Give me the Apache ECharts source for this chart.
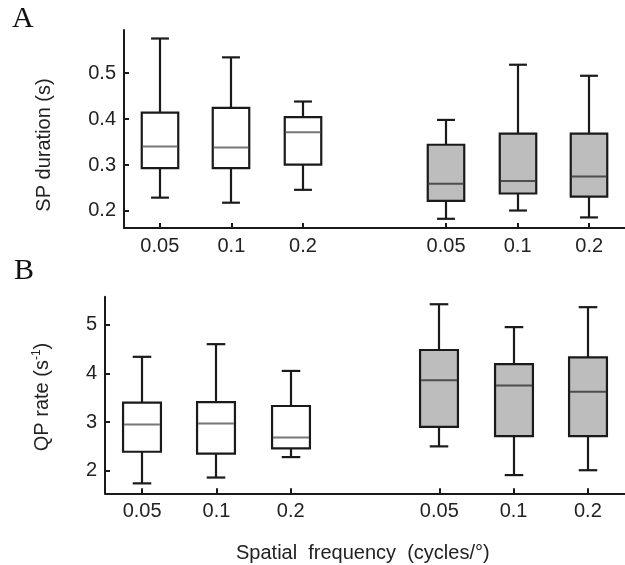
<!DOCTYPE html>
<html>
<head>
<meta charset="utf-8">
<script src="https://cdn.jsdelivr.net/npm/echarts@6/dist/echarts.min.js"></script>
<style>
  html, body { margin: 0; padding: 0; background: #fff; }
  #chart { width: 625px; height: 565px; }
</style>
</head>
<body>
<div id="chart"></div>
<script>
// Spatial-frequency conditions; the blank slot separates the two groups
const categories = ['0.05', '0.1', '0.2', '', '0.05', '0.1', '0.2'];
// 0 = open boxes (first group), 1 = filled boxes (second group)
const groupFill = [0, 0, 0, null, 1, 1, 1];

// Box statistics per condition: [min, Q1, median, Q3, max]
const spDuration = [
  [0.229, 0.293, 0.340, 0.414, 0.575],
  [0.218, 0.293, 0.338, 0.424, 0.534],
  [0.246, 0.301, 0.371, 0.404, 0.438],
  null,
  [0.183, 0.222, 0.259, 0.344, 0.398],
  [0.201, 0.238, 0.265, 0.368, 0.518],
  [0.186, 0.231, 0.275, 0.368, 0.494]
];
const qpRate = [
  [1.74, 2.39, 2.95, 3.40, 4.34],
  [1.86, 2.35, 2.97, 3.41, 4.60],
  [2.28, 2.46, 2.68, 3.33, 4.05],
  null,
  [2.50, 2.90, 3.86, 4.48, 5.42],
  [1.91, 2.71, 3.75, 4.19, 4.95],
  [2.01, 2.71, 3.62, 4.33, 5.36]
];

const spTicks = [0.2, 0.3, 0.4, 0.5];
const qpTicks = [2, 3, 4, 5];

const INK = '#1a1a1a';
const TEXT = '#222';
const FONT = 'Liberation Sans';
const LABEL_SIZE = 20;

function toSeriesData(stats) {
  const out = [];
  stats.forEach(function (s, i) {
    if (s) out.push([i, s[0], s[1], s[2], s[3], s[4], groupFill[i]]);
  });
  return out;
}

function renderBox(params, api) {
  const x = api.value(0);
  const band = api.size([1, 0])[0];
  const half = band * 0.255;
  const capHalf = band * 0.125;
  const pMin = api.coord([x, api.value(1)]);
  const pQ1 = api.coord([x, api.value(2)]);
  const pMed = api.coord([x, api.value(3)]);
  const pQ3 = api.coord([x, api.value(4)]);
  const pMax = api.coord([x, api.value(5)]);
  const filled = api.value(6) === 1;
  const cx = Math.round(pMed[0]);
  const line = { stroke: INK, lineWidth: 2.2 };
  return {
    type: 'group',
    children: [
      { type: 'line', shape: { x1: cx, y1: pQ3[1], x2: cx, y2: pMax[1] }, style: line },
      { type: 'line', shape: { x1: cx, y1: pQ1[1], x2: cx, y2: pMin[1] }, style: line },
      { type: 'line', shape: { x1: cx - capHalf, y1: pMax[1], x2: cx + capHalf, y2: pMax[1] }, style: line },
      { type: 'line', shape: { x1: cx - capHalf, y1: pMin[1], x2: cx + capHalf, y2: pMin[1] }, style: line },
      {
        type: 'rect',
        shape: { x: cx - half, y: pQ3[1], width: half * 2, height: pQ1[1] - pQ3[1] },
        style: { fill: filled ? '#bdbdbd' : '#ffffff', stroke: INK, lineWidth: 2.2 }
      },
      {
        type: 'line',
        shape: { x1: cx - half + 1, y1: pMed[1], x2: cx + half - 1, y2: pMed[1] },
        style: { stroke: filled ? '#4e4e4e' : '#777777', lineWidth: 2 }
      }
    ]
  };
}

function xAxisFor(gridIndex) {
  return {
    type: 'category',
    gridIndex: gridIndex,
    data: categories,
    boundaryGap: true,
    axisLine: { show: true, onZero: false, lineStyle: { color: INK, width: 2 } },
    axisTick: {
      show: true, inside: true, length: 5, alignWithLabel: true,
      interval: function (i, v) { return v !== ''; },
      lineStyle: { color: INK, width: 2 }
    },
    axisLabel: { interval: 0, margin: 8, fontSize: LABEL_SIZE, color: TEXT, fontFamily: FONT },
    splitLine: { show: false }
  };
}

function yAxisFor(gridIndex, min, max, ticks, name, gap, namePadding) {
  return {
    type: 'value',
    gridIndex: gridIndex,
    min: min,
    max: max,
    name: name,
    nameLocation: 'middle',
    nameRotate: 90,
    nameGap: gap,
    nameTextStyle: {
      fontSize: 20, color: TEXT, fontFamily: FONT, padding: namePadding,
      rich: {
        t: { fontSize: 20, color: TEXT, fontFamily: FONT },
        sup: { fontSize: 12, color: TEXT, fontFamily: FONT, verticalAlign: 'top', lineHeight: 22 }
      }
    },
    axisLine: { show: true, lineStyle: { color: INK, width: 2 } },
    axisTick: { show: true, inside: true, length: 5, customValues: ticks, lineStyle: { color: INK, width: 2 } },
    axisLabel: { customValues: ticks, margin: 8, fontSize: LABEL_SIZE, color: TEXT, fontFamily: FONT },
    splitLine: { show: false }
  };
}

const chart = echarts.init(document.getElementById('chart'), null, { renderer: 'canvas' });
chart.setOption({
  animation: false,
  backgroundColor: '#ffffff',
  grid: [
    { left: 124, top: 30, width: 507.5, height: 198 },
    { left: 105, top: 296.7, width: 526.4, height: 196.6 }
  ],
  xAxis: [xAxisFor(0), xAxisFor(1)],
  yAxis: [
    yAxisFor(0, 0.163, 0.5935, spTicks, 'SP duration (s)', 70, [0, 32, 0, 0]),
    yAxisFor(1, 1.536, 5.575, qpTicks, '{t|QP rate (s}{sup|-1}{t|)}', 52, [0, 4, 0, 0])
  ],
  series: [
    { type: 'custom', xAxisIndex: 0, yAxisIndex: 0, renderItem: renderBox, data: toSeriesData(spDuration), encode: { x: 0, y: [1, 2, 3, 4, 5] } },
    { type: 'custom', xAxisIndex: 1, yAxisIndex: 1, renderItem: renderBox, data: toSeriesData(qpRate), encode: { x: 0, y: [1, 2, 3, 4, 5] } }
  ],
  graphic: [
    { type: 'text', left: 12, top: 4, style: { text: 'A', font: '30px "Liberation Serif"', fill: '#111' } },
    { type: 'text', left: 14, top: 256, style: { text: 'B', font: '30px "Liberation Serif"', fill: '#111' } },
    { type: 'text', left: 236, top: 543, style: { text: 'Spatial  frequency  (cycles/°)', font: '20px "Liberation Sans"', fill: TEXT } }
  ]
});
</script>
</body>
</html>
